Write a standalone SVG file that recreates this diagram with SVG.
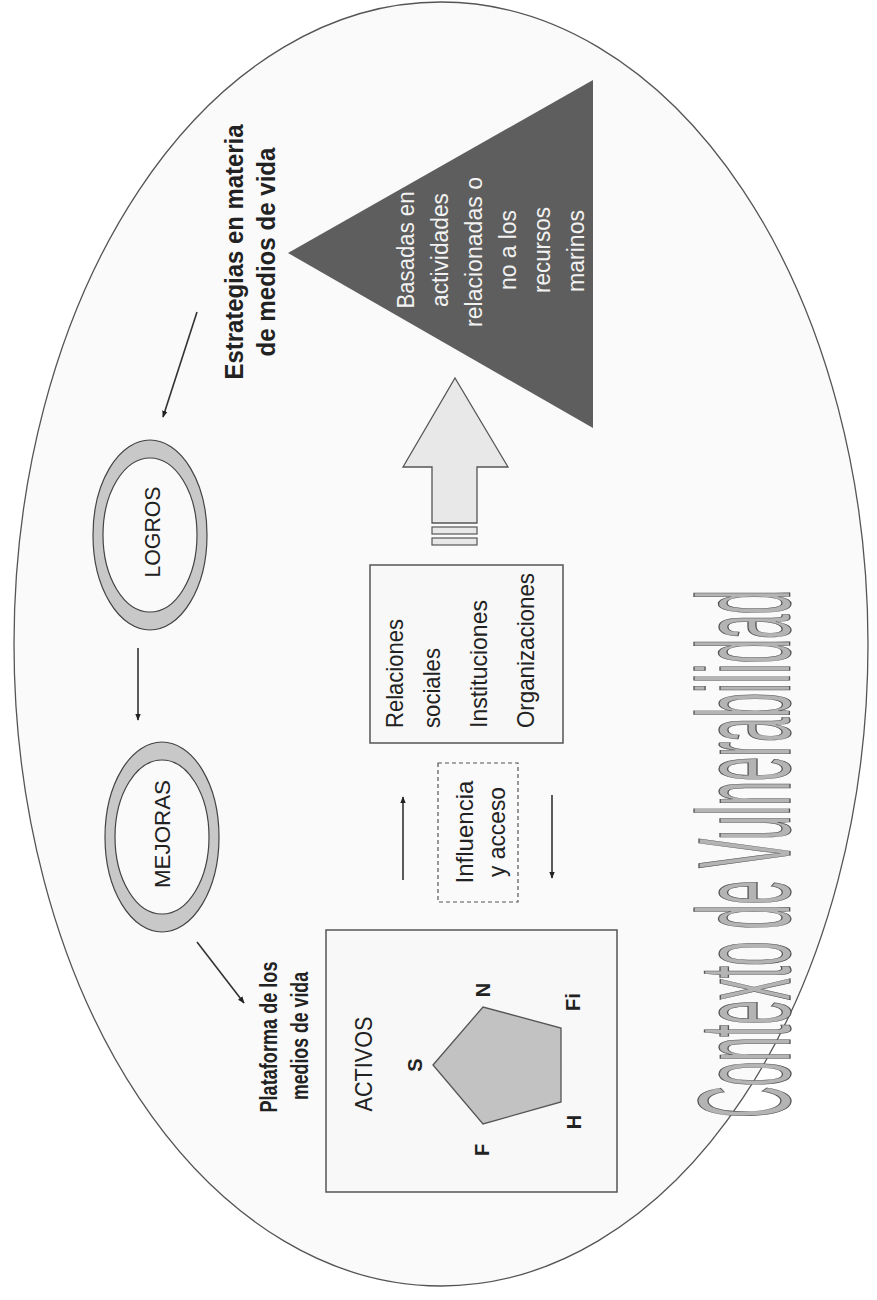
<svg xmlns="http://www.w3.org/2000/svg" width="877" height="1300" viewBox="0 0 877 1300">
<defs>
<style>
.t{font-family:"Liberation Sans",Arial,sans-serif;fill:#222}
.b{font-weight:bold}
.w{fill:#f2f2f2}
.ln{stroke:#333;stroke-width:1.6;fill:none}
.ring{fill:#c8c8c8;stroke:#444;stroke-width:1.2}
.inner{fill:#fafafa;stroke:#444;stroke-width:1.2}
.box{fill:#f8f8f8;stroke:#555;stroke-width:1.5}
</style>
<marker id="ah" viewBox="0 0 10 10" refX="9" refY="5" markerWidth="7" markerHeight="7" orient="auto" markerUnits="userSpaceOnUse">
<path d="M0,1 L10,5 L0,9 z" fill="#222"/>
</marker>
</defs>
<rect x="0" y="0" width="877" height="1300" fill="#ffffff"/>
<g id="contexto">
<ellipse cx="441" cy="644" rx="427" ry="642" fill="#fafafa" stroke="#555" stroke-width="1.3"/>
<text class="t" transform="translate(790 854) rotate(-90) scale(1 3.3)" text-anchor="middle" font-size="40" textLength="528" lengthAdjust="spacingAndGlyphs" style="fill:#b4b4b4;stroke:#555;stroke-width:0.4">Contexto de Vulnerabilidad</text>
</g>
<g id="estrategias">
<text class="t b" transform="translate(243 252) rotate(-90)" text-anchor="middle" font-size="26" textLength="255" lengthAdjust="spacingAndGlyphs">Estrategias en materia</text>
<text class="t b" transform="translate(275 252) rotate(-90)" text-anchor="middle" font-size="26" textLength="209" lengthAdjust="spacingAndGlyphs">de medios de vida</text>
</g>
<g id="triangulo">
<polygon points="288,253 593,80 593,428" fill="#5e5e5e"/>
<text class="t w" transform="translate(414 250) rotate(-90)" text-anchor="middle" font-size="23" textLength="117" lengthAdjust="spacingAndGlyphs">Basadas en</text>
<text class="t w" transform="translate(448 250) rotate(-90)" text-anchor="middle" font-size="23" textLength="114" lengthAdjust="spacingAndGlyphs">actividades</text>
<text class="t w" transform="translate(482 252) rotate(-90)" text-anchor="middle" font-size="23" textLength="150" lengthAdjust="spacingAndGlyphs">relacionadas o</text>
<text class="t w" transform="translate(516 250) rotate(-90)" text-anchor="middle" font-size="23" textLength="80" lengthAdjust="spacingAndGlyphs">no a los</text>
<text class="t w" transform="translate(550 250) rotate(-90)" text-anchor="middle" font-size="23" textLength="86" lengthAdjust="spacingAndGlyphs">recursos</text>
<text class="t w" transform="translate(584 251) rotate(-90)" text-anchor="middle" font-size="23" textLength="82" lengthAdjust="spacingAndGlyphs">marinos</text>
</g>
<g id="logros">
<ellipse class="ring" cx="150" cy="535" rx="57" ry="95"/>
<ellipse class="inner" cx="150" cy="535" rx="47" ry="77"/>
<text class="t" transform="translate(160 532) rotate(-90)" text-anchor="middle" font-size="22" textLength="91" lengthAdjust="spacingAndGlyphs">LOGROS</text>
</g>
<g id="mejoras">
<ellipse class="ring" cx="162" cy="837" rx="57" ry="95"/>
<ellipse class="inner" cx="162" cy="837" rx="47" ry="77"/>
<text class="t" transform="translate(170 834) rotate(-90)" text-anchor="middle" font-size="22" textLength="108" lengthAdjust="spacingAndGlyphs">MEJORAS</text>
</g>
<g id="plataforma">
<text class="t b" transform="translate(277 1037) rotate(-90)" text-anchor="middle" font-size="24" textLength="151" lengthAdjust="spacingAndGlyphs">Plataforma de los</text>
<text class="t b" transform="translate(308 1036) rotate(-90)" text-anchor="middle" font-size="24" textLength="128" lengthAdjust="spacingAndGlyphs">medios de vida</text>
</g>
<g id="activos">
<rect class="box" x="326" y="930" width="291" height="262"/>
<text class="t" transform="translate(372 1064) rotate(-90)" text-anchor="middle" font-size="23" textLength="95" lengthAdjust="spacingAndGlyphs">ACTIVOS</text>
<polygon points="433,1065 483,1007 561,1028 561,1102 483,1124" fill="#c2c2c2" stroke="#555" stroke-width="1.3"/>
<text class="t b" transform="translate(422 1065) rotate(-90)" text-anchor="middle" font-size="20">S</text>
<text class="t b" transform="translate(490 990) rotate(-90)" text-anchor="middle" font-size="20">N</text>
<text class="t b" transform="translate(580 1002) rotate(-90)" text-anchor="middle" font-size="20">Fi</text>
<text class="t b" transform="translate(581 1122) rotate(-90)" text-anchor="middle" font-size="20">H</text>
<text class="t b" transform="translate(489 1150) rotate(-90)" text-anchor="middle" font-size="20">F</text>
</g>
<g id="relaciones">
<rect class="box" x="370" y="565" width="193" height="178"/>
<text class="t" transform="translate(403 728) rotate(-90)" font-size="24" textLength="109" lengthAdjust="spacingAndGlyphs">Relaciones</text>
<text class="t" transform="translate(440 728) rotate(-90)" font-size="24" textLength="80" lengthAdjust="spacingAndGlyphs">sociales</text>
<text class="t" transform="translate(487 728) rotate(-90)" font-size="24" textLength="128" lengthAdjust="spacingAndGlyphs">Instituciones</text>
<text class="t" transform="translate(534 728) rotate(-90)" font-size="24" textLength="155" lengthAdjust="spacingAndGlyphs">Organizaciones</text>
</g>
<g id="influencia">
<rect x="438" y="763" width="80" height="139" fill="none" stroke="#555" stroke-width="1.2" stroke-dasharray="4,3"/>
<text class="t" transform="translate(473 832) rotate(-90)" text-anchor="middle" font-size="24" textLength="103" lengthAdjust="spacingAndGlyphs">Influencia</text>
<text class="t" transform="translate(505 832) rotate(-90)" text-anchor="middle" font-size="24" textLength="90" lengthAdjust="spacingAndGlyphs">y acceso</text>
</g>
<g id="flecha-bloque">
<path d="M455,378 L508,467 L477,467 L477,523 L432,523 L432,467 L403,467 Z" fill="#e8e8e8" stroke="#555" stroke-width="1.3"/>
<rect x="432" y="527" width="45" height="7" fill="#e8e8e8" stroke="#555" stroke-width="1.2"/>
<rect x="432" y="538" width="45" height="7" fill="#e8e8e8" stroke="#555" stroke-width="1.2"/>
</g>
<g id="connectors">
<line class="ln" x1="197" y1="312" x2="163" y2="417" marker-end="url(#ah)"/>
<line class="ln" x1="138" y1="648" x2="138" y2="720" marker-end="url(#ah)"/>
<line class="ln" x1="197" y1="942" x2="244" y2="1003" marker-end="url(#ah)"/>
<line class="ln" x1="403" y1="880" x2="403" y2="797" marker-end="url(#ah)"/>
<line class="ln" x1="552" y1="795" x2="552" y2="878" marker-end="url(#ah)"/>
</g>
</svg>
